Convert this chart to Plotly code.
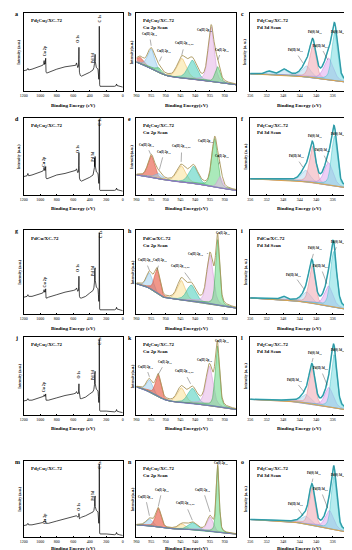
import numpy as np
import plotly.graph_objects as go
from plotly.subplots import make_subplots

W, H = 352, 550
FONT = "Liberation Serif"

samples = ["Pd<sub>1</sub>Cu<sub>3</sub>/XC-72", "Pd<sub>1</sub>Cu<sub>2</sub>/XC-72", "PdCu/XC-72",
           "Pd<sub>2</sub>Cu<sub>1</sub>/XC-72", "Pd<sub>3</sub>Cu<sub>1</sub>/XC-72"]
letters = list("abcdefghijklmno")

# ---------------- survey spectra (normalised intensity) ----------------
survey_be = [1200, 1160, 1150, 1140, 1100, 1000, 970, 958, 953, 950, 945, 940, 934, 930, 920,
             900, 800, 700, 600, 570, 560, 545, 536, 533, 531, 529, 525, 515, 500, 450,
             400, 360, 350, 343, 341, 339, 337, 335, 333, 320, 300, 295, 290, 286, 284.5,
             283, 280, 275, 200, 100, 80, 75, 70, 40, 0]
survey_a = [0.26, 0.27, 0.29, 0.27, 0.28, 0.32, 0.33, 0.35, 0.39, 0.34, 0.36, 0.35, 0.42, 0.24, 0.23,
            0.24, 0.28, 0.31, 0.32, 0.33, 0.36, 0.30, 0.32, 0.40, 0.56, 0.40, 0.24, 0.20, 0.19, 0.21,
            0.24, 0.27, 0.30, 0.35, 0.45, 0.36, 0.40, 0.47, 0.38, 0.30, 0.28, 0.22, 0.15, 0.30, 0.83,
            0.30, 0.08, 0.06, 0.06, 0.06, 0.07, 0.09, 0.07, 0.06, 0.05]
survey_d = [0.24, 0.25, 0.28, 0.25, 0.26, 0.30, 0.31, 0.33, 0.36, 0.32, 0.33, 0.32, 0.37, 0.22, 0.21,
            0.22, 0.26, 0.28, 0.31, 0.32, 0.34, 0.29, 0.30, 0.38, 0.55, 0.38, 0.22, 0.19, 0.18, 0.20,
            0.23, 0.26, 0.30, 0.36, 0.48, 0.37, 0.41, 0.50, 0.38, 0.30, 0.28, 0.22, 0.15, 0.30, 0.98,
            0.30, 0.07, 0.06, 0.06, 0.06, 0.07, 0.09, 0.07, 0.06, 0.05]
survey_g = [0.20, 0.21, 0.23, 0.21, 0.21, 0.24, 0.25, 0.27, 0.29, 0.26, 0.27, 0.26, 0.30, 0.19, 0.19,
            0.20, 0.23, 0.26, 0.28, 0.29, 0.31, 0.27, 0.28, 0.33, 0.45, 0.33, 0.21, 0.19, 0.19, 0.21,
            0.25, 0.28, 0.31, 0.38, 0.52, 0.40, 0.44, 0.55, 0.40, 0.32, 0.30, 0.23, 0.15, 0.30, 0.97,
            0.30, 0.06, 0.05, 0.05, 0.05, 0.06, 0.08, 0.06, 0.05, 0.04]
survey_j = [0.18, 0.19, 0.21, 0.19, 0.19, 0.22, 0.23, 0.24, 0.26, 0.24, 0.24, 0.24, 0.27, 0.19, 0.19,
            0.19, 0.22, 0.25, 0.27, 0.28, 0.30, 0.27, 0.28, 0.31, 0.40, 0.31, 0.23, 0.21, 0.21, 0.23,
            0.27, 0.30, 0.33, 0.39, 0.52, 0.41, 0.45, 0.56, 0.40, 0.33, 0.31, 0.24, 0.16, 0.30, 0.97,
            0.30, 0.06, 0.05, 0.05, 0.04, 0.05, 0.07, 0.05, 0.04, 0.03]
survey_m = [0.15, 0.16, 0.18, 0.16, 0.16, 0.18, 0.19, 0.20, 0.21, 0.20, 0.20, 0.20, 0.21, 0.18, 0.18,
            0.18, 0.21, 0.24, 0.26, 0.27, 0.28, 0.26, 0.27, 0.28, 0.31, 0.28, 0.24, 0.25, 0.26, 0.28,
            0.31, 0.33, 0.35, 0.40, 0.50, 0.42, 0.45, 0.54, 0.40, 0.35, 0.33, 0.25, 0.18, 0.30, 0.96,
            0.30, 0.05, 0.04, 0.04, 0.03, 0.04, 0.06, 0.04, 0.03, 0.02]
survey_series = [survey_a, survey_d, survey_g, survey_j, survey_m]
survey_ticks = [1200, 1000, 800, 600, 400, 200, 0]
# label: (text, binding energy, y)
survey_labels = [
    [("Cu 2p", 953, 0.51), ("O 1s", 541, 0.67), ("Pd 3d", 365, 0.43), ("C 1s", 288, 0.93)],
    [("Cu 2p", 953, 0.43), ("O 1s", 541, 0.60), ("Pd 3d", 370, 0.50), ("C 1s", 278, 0.95)],
    [("Cu 2p", 950, 0.38), ("O 1s", 541, 0.55), ("Pd 3d", 365, 0.52), ("C 1s", 276, 0.95)],
    [("Cu 2p", 950, 0.36), ("O 1s", 541, 0.52), ("Pd 3d", 365, 0.52), ("C 1s", 276, 0.95)],
    [("Cu 2p", 940, 0.24), ("O 1s", 541, 0.40), ("Pd 3d", 365, 0.55), ("C 1s", 276, 0.95)],
]

# ---------------- Cu 2p fits: background nodes and peak (centre, height, HWHM, colour) ----------------
cu_bg_be = [960, 956, 951, 948, 945, 940, 936, 930, 926]
cu_bg = [
    [0.37, 0.31, 0.21, 0.18, 0.17, 0.15, 0.13, 0.10, 0.08],
    [0.26, 0.24, 0.20, 0.18, 0.17, 0.15, 0.12, 0.08, 0.06],
    [0.36, 0.32, 0.20, 0.18, 0.17, 0.15, 0.13, 0.09, 0.07],
    [0.36, 0.31, 0.20, 0.17, 0.16, 0.15, 0.13, 0.09, 0.07],
    [0.16, 0.15, 0.12, 0.11, 0.10, 0.10, 0.08, 0.05, 0.04],
]
cu_peaks = [
    [(958.8, 0.08, 1.4, "red"), (955.0, 0.25, 1.4, "blue"), (952.5, 0.06, 1.3, "green"),
     (944.6, 0.25, 1.8, "yellow"), (941.0, 0.24, 1.8, "teal"), (934.6, 0.70, 1.2, "pink"),
     (932.4, 0.20, 1.0, "green")],
    [(955.0, 0.28, 1.3, "red"), (952.6, 0.07, 1.4, "blue"), (944.8, 0.21, 1.8, "yellow"),
     (940.6, 0.22, 1.8, "teal"), (933.4, 0.63, 1.2, "green"), (931.6, 0.15, 1.0, "pink")],
    [(955.6, 0.18, 1.2, "blue"), (953.0, 0.28, 1.1, "red"), (944.8, 0.23, 1.6, "yellow"),
     (941.4, 0.19, 1.8, "teal"), (935.0, 0.58, 1.3, "pink"), (932.4, 0.78, 0.8, "green")],
    [(955.6, 0.15, 1.2, "blue"), (952.6, 0.28, 1.1, "red"), (944.8, 0.19, 1.6, "yellow"),
     (941.0, 0.19, 1.8, "teal"), (935.2, 0.50, 1.4, "pink"), (932.5, 0.78, 0.85, "green")],
    [(955.6, 0.09, 1.3, "blue"), (952.6, 0.25, 1.1, "red"), (944.5, 0.07, 1.5, "yellow"),
     (941.0, 0.09, 1.8, "teal"), (935.0, 0.19, 1.2, "pink"), (932.4, 0.87, 0.6, "green")],
]
cu_ticks = [960, 955, 950, 945, 940, 935, 930]
# (text, text x, text y, arrow x, arrow y)
cu_labels = [
    [("Cu(II) 2p<sub>1/2</sub>", 955.6, 0.73, 955.0, 0.58), ("Cu(I) 2p<sub>1/2</sub>", 950.6, 0.51, 952.2, 0.38),
     ("Cu(II) 2p<sub>3/2, sat</sub>", 943.6, 0.61, 944.6, 0.46), ("Cu(II) 2p<sub>3/2</sub>", 936.8, 0.78, 935.0, 0.83),
     ("Cu(I) 2p<sub>3/2</sub>", 931.0, 0.53, 932.3, 0.40)],
    [("Cu(II) 2p<sub>1/2</sub>", 956.6, 0.65, 955.2, 0.53), ("Cu(I) 2p<sub>1/2</sub>", 950.6, 0.56, 952.2, 0.33),
     ("Cu(II) 2p<sub>3/2, sat</sub>", 944.6, 0.63, 944.8, 0.43), ("Cu(II) 2p<sub>3/2</sub>", 936.4, 0.70, 933.8, 0.72),
     ("Cu(I) 2p<sub>3/2</sub>", 930.8, 0.50, 932.0, 0.40)],
    [("Cu(II) 2p<sub>1/2</sub>", 957.0, 0.64, 955.6, 0.52), ("Cu(I) 2p<sub>1/2</sub>", 952.0, 0.64, 953.0, 0.52),
     ("Cu(II) 2p<sub>3/2, sat</sub>", 945.0, 0.56, 941.6, 0.40), ("Cu(II) 2p<sub>3/2</sub>", 939.8, 0.72, 935.6, 0.72),
     ("Cu(I) 2p<sub>3/2</sub>", 930.6, 0.96, 932.2, 0.93)],
    [("Cu(II) 2p<sub>1/2</sub>", 956.8, 0.62, 955.6, 0.49), ("Cu(I) 2p<sub>1/2</sub>", 950.2, 0.68, 952.6, 0.52),
     ("Cu(II) 2p<sub>3/2, sat</sub>", 943.8, 0.56, 941.6, 0.40), ("Cu(II) 2p<sub>3/2</sub>", 937.0, 0.71, 935.4, 0.66),
     ("Cu(I) 2p<sub>3/2</sub>", 930.8, 0.95, 932.4, 0.93)],
    [("Cu(II) 2p<sub>1/2</sub>", 957.0, 0.53, 955.6, 0.28), ("Cu(I) 2p<sub>1/2</sub>", 951.3, 0.62, 952.6, 0.40),
     ("Cu(II) 2p<sub>3/2, sat</sub>", 943.4, 0.44, 941.0, 0.22), ("Cu(II) 2p<sub>3/2</sub>", 937.4, 0.62, 935.0, 0.33),
     ("Cu(I) 2p<sub>3/2</sub>", 931.2, 0.97, 932.4, 0.92)],
]

# ---------------- Pd 3d fits ----------------
pd_bg_be = [356, 346, 342, 338, 334, 332]
pd_bg = [
    [0.22, 0.20, 0.18, 0.15, 0.12, 0.11],
    [0.21, 0.19, 0.17, 0.14, 0.10, 0.09],
    [0.19, 0.16, 0.14, 0.10, 0.07, 0.05],
    [0.20, 0.18, 0.15, 0.11, 0.08, 0.06],
    [0.23, 0.20, 0.17, 0.12, 0.08, 0.06],
]
pd_peaks = [
    [(351.5, 0.04, 0.9, "p2b"), (347.8, 0.07, 1.1, "p2b"), (342.4, 0.14, 1.3, "p2b"),
     (340.8, 0.43, 0.9, "p0b"), (337.0, 0.28, 1.3, "p2a"), (335.5, 0.62, 0.85, "p0a")],
    [(342.6, 0.15, 1.3, "p2b"), (340.9, 0.47, 0.88, "p0b"), (337.0, 0.29, 1.25, "p2a"),
     (335.6, 0.65, 0.82, "p0a")],
    [(348.0, 0.04, 0.8, "p2b"), (342.3, 0.12, 1.2, "p2b"), (341.0, 0.45, 0.85, "p0b"),
     (337.0, 0.24, 1.2, "p2a"), (335.8, 0.66, 0.85, "p0a")],
    [(342.5, 0.11, 1.3, "p2b"), (341.0, 0.46, 0.85, "p0b"), (336.9, 0.25, 1.2, "p2a"),
     (335.7, 0.68, 0.8, "p0a")],
    [(342.6, 0.10, 1.4, "p2b"), (341.0, 0.49, 0.82, "p0b"), (336.8, 0.24, 1.2, "p2a"),
     (335.7, 0.70, 0.78, "p0a")],
]
pd_ticks = [356, 352, 348, 344, 340, 336, 332]
pd_labels = [
    [("Pd(II) 3d<sub>3/2</sub>", 345.2, 0.52, 343.2, 0.36), ("Pd(0) 3d<sub>3/2</sub>", 340.2, 0.75, 341.0, 0.66),
     ("Pd(II) 3d<sub>5/2</sub>", 339.0, 0.58, 337.2, 0.40), ("Pd(0) 3d<sub>5/2</sub>", 334.6, 0.76, 335.4, 0.70)],
    [("Pd(II) 3d<sub>3/2</sub>", 345.0, 0.50, 343.2, 0.36), ("Pd(0) 3d<sub>3/2</sub>", 340.4, 0.77, 341.0, 0.70),
     ("Pd(II) 3d<sub>5/2</sub>", 338.7, 0.58, 337.2, 0.42), ("Pd(0) 3d<sub>5/2</sub>", 334.6, 0.79, 335.4, 0.74)],
    [("Pd(II) 3d<sub>3/2</sub>", 345.5, 0.47, 343.0, 0.30), ("Pd(0) 3d<sub>3/2</sub>", 340.3, 0.78, 341.0, 0.66),
     ("Pd(II) 3d<sub>5/2</sub>", 339.0, 0.57, 337.4, 0.36), ("Pd(0) 3d<sub>5/2</sub>", 334.6, 0.86, 335.4, 0.76)],
    [("Pd(II) 3d<sub>3/2</sub>", 345.3, 0.45, 343.0, 0.30), ("Pd(0) 3d<sub>3/2</sub>", 340.4, 0.80, 341.0, 0.68),
     ("Pd(II) 3d<sub>5/2</sub>", 339.0, 0.60, 337.3, 0.38), ("Pd(0) 3d<sub>5/2</sub>", 334.6, 0.83, 335.4, 0.76)],
    [("Pd(II) 3d<sub>3/2</sub>", 345.2, 0.43, 343.2, 0.28), ("Pd(0) 3d<sub>3/2</sub>", 340.5, 0.84, 341.0, 0.72),
     ("Pd(II) 3d<sub>5/2</sub>", 339.0, 0.63, 337.2, 0.38), ("Pd(0) 3d<sub>5/2</sub>", 334.6, 0.82, 335.4, 0.78)],
]

palette = {
    "blue": ("rgba(160,210,240,0.55)", "#70b0e0"),
    "red": ("rgba(232,95,75,0.65)", "#d84830"),
    "yellow": ("rgba(250,228,160,0.6)", "#e8b050"),
    "teal": ("rgba(70,205,185,0.55)", "#30b098"),
    "pink": ("rgba(230,180,230,0.55)", "#d090d8"),
    "green": ("rgba(100,215,130,0.55)", "#38a848"),
    "p2b": ("rgba(175,215,240,0.5)", "#80bce0"),
    "p0b": ("rgba(242,175,185,0.6)", "#e08890"),
    "p2a": ("rgba(225,175,240,0.6)", "#c080e0"),
    "p0a": ("rgba(120,220,225,0.55)", "#40c0c8"),
}

# ---------------- layout geometry (pixels) ----------------
col_px = [(12, 113), (127, 229), (243, 344)]
row_px = [(5, 83), (110, 187), (222, 306), (329, 407), (453, 529)]
title_off = [14, 13, 14, 13, 11]

fig = make_subplots(rows=5, cols=3)


def peak(x, c, h, w):
    u = (x - c) / w
    return h * (0.6 * np.exp(-np.log(2) * u * u) + 0.4 / (1 + u * u))


annotations = []


def axref(r, c):
    i = r * 3 + c + 1
    return ("x" if i == 1 else f"x{i}"), ("y" if i == 1 else f"y{i}")


for r in range(5):
    fig.add_trace(go.Scatter(x=survey_be, y=survey_series[r], mode="lines",
                             line=dict(color="black", width=0.7), showlegend=False), row=r + 1, col=1)
    xg = np.linspace(960, 926, 500)
    bg = np.interp(xg[::-1], cu_bg_be[::-1], cu_bg[r][::-1])[::-1]
    env = bg.copy()
    for (c0, h0, w0, col) in cu_peaks[r]:
        comp = peak(xg, c0, h0, w0)
        env += comp
        fc, lc = palette[col]
        fig.add_trace(go.Scatter(x=np.concatenate([xg, xg[::-1]]), y=np.concatenate([bg + comp, bg[::-1]]),
                                 mode="lines", fill="toself", fillcolor=fc, line=dict(color=lc, width=0.5),
                                 showlegend=False), row=r + 1, col=2)
    fig.add_trace(go.Scatter(x=xg, y=bg, mode="lines", line=dict(color="#7a6cc8", width=0.8),
                             showlegend=False), row=r + 1, col=2)
    fig.add_trace(go.Scatter(x=xg, y=env, mode="lines", line=dict(color="#a89458", width=0.9),
                             showlegend=False), row=r + 1, col=2)
    xg = np.linspace(356, 332, 500)
    bg = np.interp(xg[::-1], pd_bg_be[::-1], pd_bg[r][::-1])[::-1]
    env = bg.copy()
    for (c0, h0, w0, col) in pd_peaks[r]:
        comp = peak(xg, c0, h0, w0)
        env += comp
        fc, lc = palette[col]
        fig.add_trace(go.Scatter(x=np.concatenate([xg, xg[::-1]]), y=np.concatenate([bg + comp, bg[::-1]]),
                                 mode="lines", fill="toself", fillcolor=fc, line=dict(color=lc, width=0.5),
                                 showlegend=False), row=r + 1, col=3)
    fig.add_trace(go.Scatter(x=xg, y=bg, mode="lines", line=dict(color="#e8a040", width=0.9),
                             showlegend=False), row=r + 1, col=3)
    fig.add_trace(go.Scatter(x=xg, y=env, mode="lines", line=dict(color="#30b4bc", width=1.5),
                             showlegend=False), row=r + 1, col=3)
    fig.add_trace(go.Scatter(x=xg, y=env, mode="lines", line=dict(color="#3a6a80", width=0.4),
                             showlegend=False), row=r + 1, col=3)

tick_font = dict(family=FONT, size=4, color="black")
for r in range(5):
    y0, y1 = row_px[r]
    for c in range(3):
        x0, x1 = col_px[c]
        xa, ya = axref(r, c)
        if c == 0:
            rng, tv, xt, yt = [1200, 0], survey_ticks, "Binding Energy (eV)", "Intensity (a.u.)"
        elif c == 1:
            rng, tv, xt, yt = [960, 926], cu_ticks, "Binding Energy(eV)", "Intensity(a.u.)"
        else:
            rng, tv, xt, yt = [356, 332], pd_ticks, "Binding Energy (eV)", "Intensity (a. u.)"
        fig.update_xaxes(domain=[x0 / W, x1 / W], range=rng, tickvals=tv, ticks="inside", ticklen=1.5,
                         tickwidth=0.5, tickcolor="black", showline=True, mirror=True, linecolor="black",
                         linewidth=0.7, showgrid=False, zeroline=False, tickfont=tick_font,
                         row=r + 1, col=c + 1)
        fig.update_yaxes(domain=[1 - y1 / H, 1 - y0 / H], range=[0, 1], showticklabels=False, ticks="",
                         showline=True, mirror=True, linecolor="black", linewidth=0.7, showgrid=False,
                         zeroline=False, row=r + 1, col=c + 1)
        annotations.append(dict(xref="paper", yref="paper", x=(x0 + x1) / 2 / W, y=1 - (y1 + title_off[r]) / H,
                                text=f"<b>{xt}</b>", showarrow=False, borderpad=0,
                                font=dict(family=FONT, size=5, color="black"),
                                xanchor="center", yanchor="middle"))
        annotations.append(dict(xref="paper", yref="paper", x=(x0 - 5) / W, y=1 - (y0 + y1) / 2 / H,
                                text=f"<b>{yt}</b>", showarrow=False, textangle=-90, borderpad=0,
                                font=dict(family=FONT, size=4, color="black"), xanchor="center", yanchor="middle"))
        annotations.append(dict(xref="paper", yref="paper", x=(x0 - 10) / W, y=1 - (y0 + 1) / H,
                                text=f"<b>{letters[r * 3 + c]}</b>", showarrow=False, borderpad=0,
                                font=dict(family=FONT, size=6, color="black"), xanchor="left", yanchor="middle"))
        annotations.append(dict(xref=xa + " domain", yref=ya + " domain", x=0.05, y=0.9,
                                text=f"<b>{samples[r]}</b>", showarrow=False,
                                font=dict(family=FONT, size=5, color="black"), xanchor="left", yanchor="middle"))
        if c == 1:
            annotations.append(dict(xref=xa + " domain", yref=ya + " domain", x=0.05, y=0.81,
                                    text="<b>Cu 2p Scan</b>", showarrow=False,
                                    font=dict(family=FONT, size=5, color="black"), xanchor="left", yanchor="middle"))
        if c == 2:
            annotations.append(dict(xref=xa + " domain", yref=ya + " domain", x=0.05, y=0.81,
                                    text="<b>Pd 3d Scan</b>", showarrow=False,
                                    font=dict(family=FONT, size=5, color="black"), xanchor="left", yanchor="middle"))
        if c == 0:
            for (t, bx, by) in survey_labels[r]:
                annotations.append(dict(xref=xa, yref=ya, x=bx, y=by, text=f"<b>{t}</b>", showarrow=False,
                                        textangle=-90, font=dict(family=FONT, size=4, color="black"),
                                        xanchor="center", yanchor="middle"))
        else:
            labs = cu_labels[r] if c == 1 else pd_labels[r]
            for (t, tx, ty, px, py) in labs:
                annotations.append(dict(xref=xa, yref=ya, x=px, y=py, ax=tx, ay=ty, axref=xa, ayref=ya,
                                        text=f"<b>{t}</b>", showarrow=True, arrowhead=0, arrowwidth=0.4,
                                        arrowcolor="#333333", standoff=0, startstandoff=2,
                                        font=dict(family=FONT, size=3, color="black")))

fig.update_layout(width=W, height=H, margin=dict(l=0, r=0, t=0, b=0), paper_bgcolor="white",
                  plot_bgcolor="white", showlegend=False, annotations=annotations,
                  font=dict(family=FONT))
fig.write_html("out.html")
